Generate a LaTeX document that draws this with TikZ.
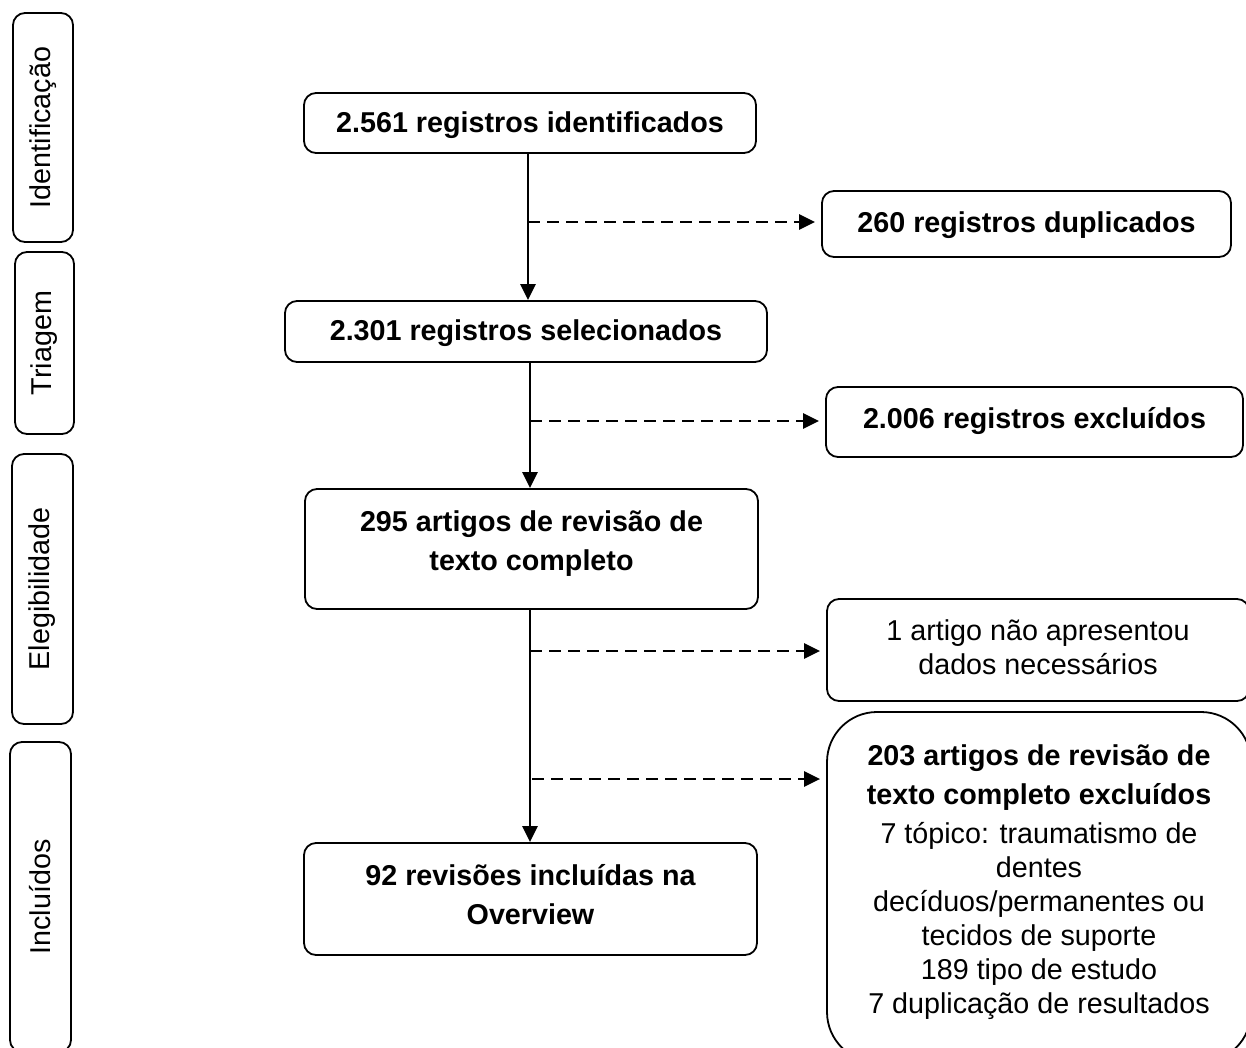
\documentclass[tikz,border=0pt]{standalone}
\usepackage{fontspec}
\setmainfont{Liberation Sans}
\usetikzlibrary{arrows.meta}
\tikzset{
  box/.style={draw, line width=1.8pt, rounded corners=12pt, inner sep=0pt, align=center},
  boldtxt/.style={font=\fontsize{28.7}{39}\selectfont\bfseries},
  regtxt/.style={font=\fontsize{28.7}{34}\selectfont},
  phase/.style={draw, line width=1.8pt, rounded corners=12pt, inner sep=0pt, rotate=90,
    font=\fontsize{28.7}{34}\selectfont},
  flow/.style={line width=2.4pt, -{Triangle[length=16pt,width=15pt]}},
  side/.style={line width=2.4pt, dash pattern=on 12pt off 7pt, -{Triangle[length=16pt,width=15pt]}, shorten >=6pt}
}
\begin{document}
\begin{tikzpicture}[x=1pt,y=-1pt]
\useasboundingbox (0,0) rectangle (1246,1048);
% phase labels
\node[phase, minimum width=229pt, minimum height=60pt] (p1) at (43,127.5) {Identificação};
\node[phase, minimum width=182pt, minimum height=59pt] (p2) at (44.5,343) {Triagem};
\node[phase, minimum width=270pt, minimum height=61pt] (p3) at (42.5,589) {Elegibilidade};
\node[phase, minimum width=310pt, minimum height=61pt] (p4) at (40.5,897) {Incluídos};
% main boxes
\node[box, boldtxt, minimum width=452pt, minimum height=60pt] (A) at (530,123)
  {\raisebox{-2pt}[\height][\depth]{2.561 registros identificados}};
\node[box, boldtxt, minimum width=409pt, minimum height=66pt] (B) at (1026.5,224)
  {\raisebox{-1pt}[\height][\depth]{260 registros duplicados}};
\node[box, boldtxt, minimum width=482pt, minimum height=61pt] (C) at (526,331.5)
  {\raisebox{-2pt}[\height][\depth]{2.301 registros selecionados}};
\node[box, boldtxt, minimum width=417pt, minimum height=70pt] (D) at (1034.5,422)
  {\raisebox{1pt}[\height][\depth]{2.006 registros excluídos}};
\node[box, boldtxt, minimum width=453pt, minimum height=120pt] (E) at (531.5,549)
  {\raisebox{6pt}[\height][\depth]{\begin{tabular}{@{}c@{}}295 artigos de revisão de\\texto completo\end{tabular}}};
\node[box, regtxt, minimum width=422pt, minimum height=102pt] (F) at (1038,650)
  {\raisebox{-1pt}[\height][\depth]{\begin{tabular}{@{}c@{}}1 artigo não apresentou\\dados necessários\end{tabular}}};
\node[box, regtxt, rounded corners=50pt, minimum width=424pt, minimum height=350pt] (G) at (1039,887)
  {\raisebox{4pt}[\height][\depth]{\begin{tabular}{@{}c@{}}\bfseries 203 artigos de revisão de\\[5pt]\bfseries texto completo excluídos\\[5pt]7 tópico: traumatismo de\\dentes\\decíduos/permanentes ou\\tecidos de suporte\\189 tipo de estudo\\7 duplicação de resultados\end{tabular}}};
\node[box, boldtxt, minimum width=453pt, minimum height=112pt] (H) at (530.5,899)
  {\raisebox{2pt}[\height][\depth]{\begin{tabular}{@{}c@{}}92 revisões incluídas na\\Overview\end{tabular}}};
% junction points on the main line
\coordinate (j1) at (528,222);
\coordinate (j2) at (530,421);
\coordinate (j3) at (530,651);
\coordinate (j4) at (532,779);
% vertical flow
\draw[flow] (A.south -| j1) -- (C.north -| j1);
\draw[flow] (C.south -| j2) -- (E.north -| j2);
\draw[flow] (E.south -| j3) -- (H.north -| j3);
% side arrows
\draw[side] (j1) -- (B.west |- j1);
\draw[side] (j2) -- (D.west |- j2);
\draw[side] (j3) -- (F.west |- j3);
\draw[side] (j4) -- (G.west |- j4);
\end{tikzpicture}
\end{document}
